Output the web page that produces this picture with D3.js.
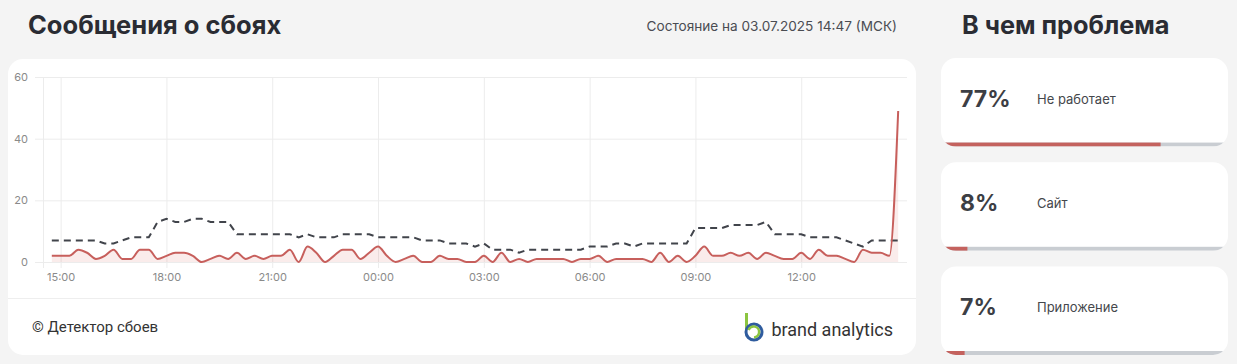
<!DOCTYPE html>
<html><head><meta charset="utf-8">
<script src="https://cdn.jsdelivr.net/npm/d3@7/dist/d3.min.js"></script>
<style>
html,body{margin:0;padding:0;background:#f4f4f4;}
svg{display:block;font-family:Inter,"Noto Sans",sans-serif;}
</style></head>
<body><svg id="c" width="1237" height="364"></svg>
<script>
// ---- data ----
const startTime = "2025-07-02T14:45:00";
const stepMinutes = 15;
const reports = [2,2,2,4,3,1,2,4,1,1,4,4,1,2,3,3,2,0,1,2,1,3,1,2,1,2,2,4,0,5,3,0,2,4,4,1,3,5,2,0,1,2,0,0,2,1,1,0,0,2,0,3,0,1,0,1,1,1,1,0,1,1,2,0,1,1,1,1,0,3,0,2,0,2,5,2,2,3,2,3,1,3,2,1,1,3,1,4,2,2,1,0,4,3,3,2,49];
const baseline = [7,7,7,7,7,7,6,6,7,8,8,8,13,14,13,13,14,14,13,13,13,9,9,9,9,9,9,9,8,9,8,8,8,9,9,9,9,8,8,8,8,8,7,7,7,6,6,6,5,6,4,4,4,3,4,4,4,4,4,4,4,5,5,5,6,6,5,6,6,6,6,6,6,11,11,11,11,12,12,12,12,13,9,9,9,9,8,8,8,8,7,6,5,7,7,7,7];
const yTicks = [0,20,40,60];
const xTickLabels = ["15:00","18:00","21:00","00:00","03:00","06:00","09:00","12:00"];
const xTickDates = ["2025-07-02T15:00","2025-07-02T18:00","2025-07-02T21:00","2025-07-03T00:00","2025-07-03T03:00","2025-07-03T06:00","2025-07-03T09:00","2025-07-03T12:00"];
const problems = ["Не работает","Сайт","Приложение"];
const problemShares = [77,8,7];
const title = "Сообщения о сбоях";
const stateText = "Состояние на 03.07.2025 14:47 (МСК)";
const sideTitle = "В чем проблема";
const footerText = "© Детектор сбоев";
const brandText = "brand analytics";

// ---- drawing ----
const svg = d3.select("#c");
const t0 = new Date(startTime);
const times = reports.map((_, i) => new Date(t0.getTime() + i*stepMinutes*60000));

svg.append("text").attr("x",28).attr("y",34).text(title)
  .attr("font-size",25.5).attr("font-weight",700).attr("fill","#2a2c33");
svg.append("text").attr("x",897).attr("y",31).attr("text-anchor","end").text(stateText)
  .attr("font-size",13.6).attr("fill","#4a4c52");
svg.append("text").attr("x",962).attr("y",34).text(sideTitle)
  .attr("font-size",25.3).attr("font-weight",700).attr("fill","#2a2c33");

// chart card
svg.append("rect").attr("x",8).attr("y",59).attr("width",908).attr("height",296).attr("rx",15).attr("fill","#fff");
svg.append("line").attr("x1",8).attr("x2",916).attr("y1",298.5).attr("y2",298.5).attr("stroke","#eeeeee");

const x = d3.scaleTime().domain([new Date("2025-07-02T14:30:00"), new Date("2025-07-03T15:00:00")]).range([43,907]);
const y = d3.scaleLinear().domain([0,60]).range([262,77]);

const g = svg.append("g");
const yAxis = d3.axisLeft(y).tickValues(yTicks).tickSize(8).tickPadding(7);
const gy = g.append("g").attr("transform","translate(43,0)").call(yAxis);
gy.select(".domain").remove();
gy.selectAll(".tick line").clone().attr("x2",864);
gy.selectAll("line").attr("stroke","#ececec");
gy.selectAll("text").attr("fill","#8a8a8a").attr("font-size",11).attr("font-family","Inter,sans-serif");

const xAxis = d3.axisBottom(x).tickValues(xTickDates.map(d=>new Date(d))).tickFormat((d,i)=>xTickLabels[i]).tickSize(6).tickPadding(5);
const gx = g.append("g").attr("transform","translate(0,262)").call(xAxis);
gx.select(".domain").remove();
gx.selectAll(".tick line").clone().attr("y1",-185).attr("y2",0);
gx.selectAll("line").attr("stroke","#ececec");
gx.selectAll("text").attr("fill","#8a8a8a").attr("font-size",11).attr("font-family","Inter,sans-serif");
g.append("line").attr("x1",43.5).attr("x2",43.5).attr("y1",77).attr("y2",268).attr("stroke","#ececec");

const area = d3.area().x((d,i)=>x(times[i])).y0(y(0)).y1(d=>y(d)).curve(d3.curveMonotoneX);
g.append("path").datum(reports).attr("d",area).attr("fill","rgba(214,96,92,0.12)");
const line = d3.line().x((d,i)=>x(times[i])).y(d=>y(d));
g.append("path").datum(baseline).attr("d",line.curve(d3.curveLinear)).attr("fill","none")
  .attr("stroke","#41444b").attr("stroke-width",2).attr("stroke-dasharray","7,5");
g.append("path").datum(reports).attr("d",d3.line().x((d,i)=>x(times[i])).y(d=>y(d)).curve(d3.curveMonotoneX))
  .attr("fill","none").attr("stroke","#c75f5c").attr("stroke-width",2);

// footer
svg.append("text").attr("x",32).attr("y",332).text(footerText).attr("font-size",15).attr("font-family","Roboto,sans-serif").attr("fill","#333");
const logo = svg.append("g");
logo.append("line").attr("x1",746.5).attr("x2",746.5).attr("y1",313).attr("y2",330).attr("stroke","#8cc540").attr("stroke-width",3);
logo.append("circle").attr("cx",754).attr("cy",332).attr("r",8).attr("fill","none").attr("stroke","#2f5c9e").attr("stroke-width",3);
logo.append("path").attr("d","M748.5,330 A5.5,5.5 0 1 1 754,337.5").attr("fill","none").attr("stroke","#8cc540").attr("stroke-width",2.5);
svg.append("text").attr("x",893).attr("y",336).attr("text-anchor","end").text(brandText).attr("font-size",18).attr("font-family","Roboto,sans-serif").attr("fill","#333");

// problem cards
const cardY = d3.scaleBand().domain(problems).range([58,355]).paddingInner(0.15);
const w = d3.scaleLinear().domain([0,100]).range([0,280]);
const defs = svg.append("defs");
problems.forEach((p,i)=>{
  const cy = cardY(p), ch = cardY.bandwidth();
  defs.append("clipPath").attr("id","cc"+i).append("rect").attr("x",941).attr("y",cy).attr("width",287).attr("height",ch).attr("rx",15);
  const cg = svg.append("g");
  cg.append("rect").attr("x",941).attr("y",cy).attr("width",287).attr("height",ch).attr("rx",15).attr("fill","#fff");
  const bg = cg.append("g").attr("clip-path",`url(#cc${i})`);
  bg.append("rect").attr("x",941).attr("y",cy+ch-4).attr("width",287).attr("height",4).attr("fill","#c9cdd2");
  bg.append("rect").attr("x",941).attr("y",cy+ch-4).attr("width",4+w(problemShares[i])).attr("height",4).attr("fill","#c4625e");
  cg.append("text").attr("x",960).attr("y",cy+49).text(problemShares[i]+"%").attr("font-size",23).attr("font-weight",700).attr("fill","#3c3e44");
  cg.append("text").attr("x",1037).attr("y",cy+46).text(p).attr("font-size",13).attr("fill","#45474c");
});
</script></body></html>
